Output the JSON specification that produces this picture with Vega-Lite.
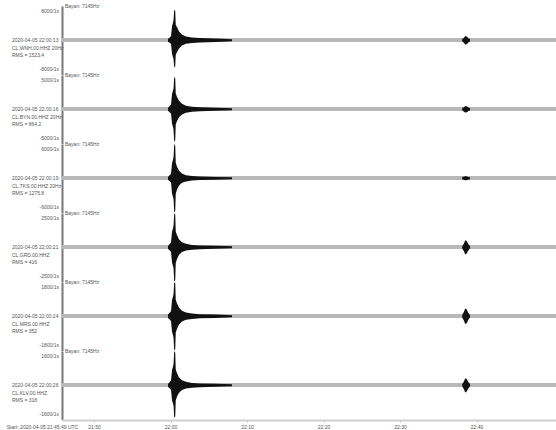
{
  "$schema": "https://vega.github.io/schema/vega-lite/v6.json",
  "padding": {"left": 6, "top": 4, "right": 0, "bottom": 0},
  "background": "white",
  "bounds": "flush",
  "data": {"values": [
    {"sta": "A", "ev": 1, "t": "2020-04-05T21:59:40", "hi": 0.04, "lo": -0.04},
    {"sta": "A", "ev": 1, "t": "2020-04-05T22:00:04", "hi": 0.12, "lo": -0.1},
    {"sta": "A", "ev": 1, "t": "2020-04-05T22:00:12", "hi": 0.42, "lo": -0.4},
    {"sta": "A", "ev": 1, "t": "2020-04-05T22:00:20", "hi": 0.52, "lo": -0.5},
    {"sta": "A", "ev": 1, "t": "2020-04-05T22:00:24", "hi": 0.6, "lo": -0.55},
    {"sta": "A", "ev": 1, "t": "2020-04-05T22:00:29", "hi": 0.9, "lo": -0.8},
    {"sta": "A", "ev": 1, "t": "2020-04-05T22:00:37", "hi": 0.85, "lo": -0.75},
    {"sta": "A", "ev": 1, "t": "2020-04-05T22:00:41", "hi": 0.45, "lo": -0.42},
    {"sta": "A", "ev": 1, "t": "2020-04-05T22:00:51", "hi": 0.38, "lo": -0.34},
    {"sta": "A", "ev": 1, "t": "2020-04-05T22:01:07", "hi": 0.26, "lo": -0.24},
    {"sta": "A", "ev": 1, "t": "2020-04-05T22:01:30", "hi": 0.17, "lo": -0.15},
    {"sta": "A", "ev": 1, "t": "2020-04-05T22:02:01", "hi": 0.11, "lo": -0.1},
    {"sta": "A", "ev": 1, "t": "2020-04-05T22:02:48", "hi": 0.08, "lo": -0.08},
    {"sta": "A", "ev": 1, "t": "2020-04-05T22:03:51", "hi": 0.065, "lo": -0.065},
    {"sta": "A", "ev": 1, "t": "2020-04-05T22:05:49", "hi": 0.05, "lo": -0.05},
    {"sta": "A", "ev": 1, "t": "2020-04-05T22:08:02", "hi": 0.03, "lo": -0.03},
    {"sta": "A", "ev": 2, "t": "2020-04-05T22:38:07", "hi": 0.03, "lo": -0.03},
    {"sta": "A", "ev": 2, "t": "2020-04-05T22:38:22", "hi": 0.08, "lo": -0.08},
    {"sta": "A", "ev": 2, "t": "2020-04-05T22:38:30", "hi": 0.12, "lo": -0.12},
    {"sta": "A", "ev": 2, "t": "2020-04-05T22:38:38", "hi": 0.12, "lo": -0.12},
    {"sta": "A", "ev": 2, "t": "2020-04-05T22:38:46", "hi": 0.1, "lo": -0.1},
    {"sta": "A", "ev": 2, "t": "2020-04-05T22:38:54", "hi": 0.07, "lo": -0.07},
    {"sta": "A", "ev": 2, "t": "2020-04-05T22:39:09", "hi": 0.03, "lo": -0.03},

    {"sta": "B", "ev": 1, "t": "2020-04-05T21:59:40", "hi": 0.04, "lo": -0.04},
    {"sta": "B", "ev": 1, "t": "2020-04-05T22:00:04", "hi": 0.14, "lo": -0.12},
    {"sta": "B", "ev": 1, "t": "2020-04-05T22:00:12", "hi": 0.45, "lo": -0.42},
    {"sta": "B", "ev": 1, "t": "2020-04-05T22:00:20", "hi": 0.55, "lo": -0.52},
    {"sta": "B", "ev": 1, "t": "2020-04-05T22:00:24", "hi": 0.62, "lo": -0.6},
    {"sta": "B", "ev": 1, "t": "2020-04-05T22:00:29", "hi": 0.95, "lo": -0.95},
    {"sta": "B", "ev": 1, "t": "2020-04-05T22:00:37", "hi": 0.9, "lo": -0.9},
    {"sta": "B", "ev": 1, "t": "2020-04-05T22:00:41", "hi": 0.46, "lo": -0.44},
    {"sta": "B", "ev": 1, "t": "2020-04-05T22:00:51", "hi": 0.36, "lo": -0.34},
    {"sta": "B", "ev": 1, "t": "2020-04-05T22:01:07", "hi": 0.25, "lo": -0.23},
    {"sta": "B", "ev": 1, "t": "2020-04-05T22:01:30", "hi": 0.16, "lo": -0.15},
    {"sta": "B", "ev": 1, "t": "2020-04-05T22:02:01", "hi": 0.1, "lo": -0.1},
    {"sta": "B", "ev": 1, "t": "2020-04-05T22:02:48", "hi": 0.075, "lo": -0.075},
    {"sta": "B", "ev": 1, "t": "2020-04-05T22:03:51", "hi": 0.06, "lo": -0.06},
    {"sta": "B", "ev": 1, "t": "2020-04-05T22:05:49", "hi": 0.045, "lo": -0.045},
    {"sta": "B", "ev": 1, "t": "2020-04-05T22:08:02", "hi": 0.03, "lo": -0.03},
    {"sta": "B", "ev": 2, "t": "2020-04-05T22:38:07", "hi": 0.03, "lo": -0.03},
    {"sta": "B", "ev": 2, "t": "2020-04-05T22:38:22", "hi": 0.07, "lo": -0.07},
    {"sta": "B", "ev": 2, "t": "2020-04-05T22:38:30", "hi": 0.09, "lo": -0.09},
    {"sta": "B", "ev": 2, "t": "2020-04-05T22:38:38", "hi": 0.09, "lo": -0.09},
    {"sta": "B", "ev": 2, "t": "2020-04-05T22:38:46", "hi": 0.08, "lo": -0.08},
    {"sta": "B", "ev": 2, "t": "2020-04-05T22:38:54", "hi": 0.06, "lo": -0.06},
    {"sta": "B", "ev": 2, "t": "2020-04-05T22:39:09", "hi": 0.03, "lo": -0.03},

    {"sta": "C", "ev": 1, "t": "2020-04-05T21:59:40", "hi": 0.04, "lo": -0.04},
    {"sta": "C", "ev": 1, "t": "2020-04-05T22:00:04", "hi": 0.13, "lo": -0.12},
    {"sta": "C", "ev": 1, "t": "2020-04-05T22:00:12", "hi": 0.44, "lo": -0.44},
    {"sta": "C", "ev": 1, "t": "2020-04-05T22:00:20", "hi": 0.55, "lo": -0.55},
    {"sta": "C", "ev": 1, "t": "2020-04-05T22:00:24", "hi": 0.62, "lo": -0.62},
    {"sta": "C", "ev": 1, "t": "2020-04-05T22:00:29", "hi": 1.0, "lo": -1.0},
    {"sta": "C", "ev": 1, "t": "2020-04-05T22:00:37", "hi": 0.95, "lo": -0.95},
    {"sta": "C", "ev": 1, "t": "2020-04-05T22:00:41", "hi": 0.45, "lo": -0.45},
    {"sta": "C", "ev": 1, "t": "2020-04-05T22:00:51", "hi": 0.34, "lo": -0.33},
    {"sta": "C", "ev": 1, "t": "2020-04-05T22:01:07", "hi": 0.22, "lo": -0.21},
    {"sta": "C", "ev": 1, "t": "2020-04-05T22:01:30", "hi": 0.14, "lo": -0.13},
    {"sta": "C", "ev": 1, "t": "2020-04-05T22:02:01", "hi": 0.09, "lo": -0.09},
    {"sta": "C", "ev": 1, "t": "2020-04-05T22:02:48", "hi": 0.065, "lo": -0.065},
    {"sta": "C", "ev": 1, "t": "2020-04-05T22:03:51", "hi": 0.05, "lo": -0.05},
    {"sta": "C", "ev": 1, "t": "2020-04-05T22:05:49", "hi": 0.04, "lo": -0.04},
    {"sta": "C", "ev": 1, "t": "2020-04-05T22:08:02", "hi": 0.03, "lo": -0.03},
    {"sta": "C", "ev": 2, "t": "2020-04-05T22:38:07", "hi": 0.03, "lo": -0.03},
    {"sta": "C", "ev": 2, "t": "2020-04-05T22:38:22", "hi": 0.05, "lo": -0.05},
    {"sta": "C", "ev": 2, "t": "2020-04-05T22:38:30", "hi": 0.06, "lo": -0.06},
    {"sta": "C", "ev": 2, "t": "2020-04-05T22:38:38", "hi": 0.06, "lo": -0.06},
    {"sta": "C", "ev": 2, "t": "2020-04-05T22:38:46", "hi": 0.05, "lo": -0.05},
    {"sta": "C", "ev": 2, "t": "2020-04-05T22:38:54", "hi": 0.04, "lo": -0.04},
    {"sta": "C", "ev": 2, "t": "2020-04-05T22:39:09", "hi": 0.03, "lo": -0.03},

    {"sta": "D", "ev": 1, "t": "2020-04-05T21:59:40", "hi": 0.04, "lo": -0.04},
    {"sta": "D", "ev": 1, "t": "2020-04-05T22:00:04", "hi": 0.14, "lo": -0.13},
    {"sta": "D", "ev": 1, "t": "2020-04-05T22:00:12", "hi": 0.46, "lo": -0.45},
    {"sta": "D", "ev": 1, "t": "2020-04-05T22:00:20", "hi": 0.56, "lo": -0.55},
    {"sta": "D", "ev": 1, "t": "2020-04-05T22:00:24", "hi": 0.64, "lo": -0.62},
    {"sta": "D", "ev": 1, "t": "2020-04-05T22:00:29", "hi": 1.0, "lo": -1.0},
    {"sta": "D", "ev": 1, "t": "2020-04-05T22:00:37", "hi": 0.95, "lo": -0.95},
    {"sta": "D", "ev": 1, "t": "2020-04-05T22:00:41", "hi": 0.46, "lo": -0.46},
    {"sta": "D", "ev": 1, "t": "2020-04-05T22:00:51", "hi": 0.35, "lo": -0.34},
    {"sta": "D", "ev": 1, "t": "2020-04-05T22:01:07", "hi": 0.23, "lo": -0.22},
    {"sta": "D", "ev": 1, "t": "2020-04-05T22:01:30", "hi": 0.15, "lo": -0.14},
    {"sta": "D", "ev": 1, "t": "2020-04-05T22:02:01", "hi": 0.1, "lo": -0.09},
    {"sta": "D", "ev": 1, "t": "2020-04-05T22:02:48", "hi": 0.07, "lo": -0.07},
    {"sta": "D", "ev": 1, "t": "2020-04-05T22:03:51", "hi": 0.055, "lo": -0.055},
    {"sta": "D", "ev": 1, "t": "2020-04-05T22:05:49", "hi": 0.045, "lo": -0.045},
    {"sta": "D", "ev": 1, "t": "2020-04-05T22:08:02", "hi": 0.03, "lo": -0.03},
    {"sta": "D", "ev": 2, "t": "2020-04-05T22:38:07", "hi": 0.03, "lo": -0.03},
    {"sta": "D", "ev": 2, "t": "2020-04-05T22:38:22", "hi": 0.12, "lo": -0.12},
    {"sta": "D", "ev": 2, "t": "2020-04-05T22:38:30", "hi": 0.2, "lo": -0.2},
    {"sta": "D", "ev": 2, "t": "2020-04-05T22:38:38", "hi": 0.2, "lo": -0.2},
    {"sta": "D", "ev": 2, "t": "2020-04-05T22:38:46", "hi": 0.16, "lo": -0.16},
    {"sta": "D", "ev": 2, "t": "2020-04-05T22:38:54", "hi": 0.1, "lo": -0.1},
    {"sta": "D", "ev": 2, "t": "2020-04-05T22:39:09", "hi": 0.03, "lo": -0.03},

    {"sta": "E", "ev": 1, "t": "2020-04-05T21:59:40", "hi": 0.05, "lo": -0.05},
    {"sta": "E", "ev": 1, "t": "2020-04-05T22:00:04", "hi": 0.15, "lo": -0.14},
    {"sta": "E", "ev": 1, "t": "2020-04-05T22:00:12", "hi": 0.48, "lo": -0.46},
    {"sta": "E", "ev": 1, "t": "2020-04-05T22:00:20", "hi": 0.58, "lo": -0.56},
    {"sta": "E", "ev": 1, "t": "2020-04-05T22:00:24", "hi": 0.66, "lo": -0.64},
    {"sta": "E", "ev": 1, "t": "2020-04-05T22:00:29", "hi": 1.0, "lo": -1.0},
    {"sta": "E", "ev": 1, "t": "2020-04-05T22:00:37", "hi": 0.96, "lo": -0.96},
    {"sta": "E", "ev": 1, "t": "2020-04-05T22:00:41", "hi": 0.48, "lo": -0.47},
    {"sta": "E", "ev": 1, "t": "2020-04-05T22:00:51", "hi": 0.37, "lo": -0.36},
    {"sta": "E", "ev": 1, "t": "2020-04-05T22:01:07", "hi": 0.25, "lo": -0.24},
    {"sta": "E", "ev": 1, "t": "2020-04-05T22:01:30", "hi": 0.16, "lo": -0.15},
    {"sta": "E", "ev": 1, "t": "2020-04-05T22:02:01", "hi": 0.11, "lo": -0.1},
    {"sta": "E", "ev": 1, "t": "2020-04-05T22:02:48", "hi": 0.08, "lo": -0.08},
    {"sta": "E", "ev": 1, "t": "2020-04-05T22:03:51", "hi": 0.06, "lo": -0.06},
    {"sta": "E", "ev": 1, "t": "2020-04-05T22:05:49", "hi": 0.05, "lo": -0.05},
    {"sta": "E", "ev": 1, "t": "2020-04-05T22:08:02", "hi": 0.03, "lo": -0.03},
    {"sta": "E", "ev": 2, "t": "2020-04-05T22:38:07", "hi": 0.03, "lo": -0.03},
    {"sta": "E", "ev": 2, "t": "2020-04-05T22:38:22", "hi": 0.14, "lo": -0.14},
    {"sta": "E", "ev": 2, "t": "2020-04-05T22:38:30", "hi": 0.22, "lo": -0.22},
    {"sta": "E", "ev": 2, "t": "2020-04-05T22:38:38", "hi": 0.22, "lo": -0.22},
    {"sta": "E", "ev": 2, "t": "2020-04-05T22:38:46", "hi": 0.18, "lo": -0.18},
    {"sta": "E", "ev": 2, "t": "2020-04-05T22:38:54", "hi": 0.11, "lo": -0.11},
    {"sta": "E", "ev": 2, "t": "2020-04-05T22:39:09", "hi": 0.03, "lo": -0.03},

    {"sta": "F", "ev": 1, "t": "2020-04-05T21:59:40", "hi": 0.04, "lo": -0.04},
    {"sta": "F", "ev": 1, "t": "2020-04-05T22:00:04", "hi": 0.14, "lo": -0.13},
    {"sta": "F", "ev": 1, "t": "2020-04-05T22:00:12", "hi": 0.45, "lo": -0.44},
    {"sta": "F", "ev": 1, "t": "2020-04-05T22:00:20", "hi": 0.55, "lo": -0.54},
    {"sta": "F", "ev": 1, "t": "2020-04-05T22:00:24", "hi": 0.63, "lo": -0.6},
    {"sta": "F", "ev": 1, "t": "2020-04-05T22:00:29", "hi": 1.0, "lo": -0.95},
    {"sta": "F", "ev": 1, "t": "2020-04-05T22:00:37", "hi": 0.95, "lo": -0.9},
    {"sta": "F", "ev": 1, "t": "2020-04-05T22:00:41", "hi": 0.46, "lo": -0.44},
    {"sta": "F", "ev": 1, "t": "2020-04-05T22:00:51", "hi": 0.35, "lo": -0.33},
    {"sta": "F", "ev": 1, "t": "2020-04-05T22:01:07", "hi": 0.23, "lo": -0.22},
    {"sta": "F", "ev": 1, "t": "2020-04-05T22:01:30", "hi": 0.15, "lo": -0.14},
    {"sta": "F", "ev": 1, "t": "2020-04-05T22:02:01", "hi": 0.1, "lo": -0.09},
    {"sta": "F", "ev": 1, "t": "2020-04-05T22:02:48", "hi": 0.07, "lo": -0.07},
    {"sta": "F", "ev": 1, "t": "2020-04-05T22:03:51", "hi": 0.055, "lo": -0.055},
    {"sta": "F", "ev": 1, "t": "2020-04-05T22:05:49", "hi": 0.045, "lo": -0.045},
    {"sta": "F", "ev": 1, "t": "2020-04-05T22:08:02", "hi": 0.03, "lo": -0.03},
    {"sta": "F", "ev": 2, "t": "2020-04-05T22:38:07", "hi": 0.03, "lo": -0.03},
    {"sta": "F", "ev": 2, "t": "2020-04-05T22:38:22", "hi": 0.12, "lo": -0.12},
    {"sta": "F", "ev": 2, "t": "2020-04-05T22:38:30", "hi": 0.2, "lo": -0.2},
    {"sta": "F", "ev": 2, "t": "2020-04-05T22:38:38", "hi": 0.2, "lo": -0.2},
    {"sta": "F", "ev": 2, "t": "2020-04-05T22:38:46", "hi": 0.16, "lo": -0.16},
    {"sta": "F", "ev": 2, "t": "2020-04-05T22:38:54", "hi": 0.1, "lo": -0.1},
    {"sta": "F", "ev": 2, "t": "2020-04-05T22:39:09", "hi": 0.03, "lo": -0.03},

    {"sta": "A", "kind": "name", "txt": "Bayan: 7145Hz"},
    {"sta": "B", "kind": "name", "txt": "Bayan: 7145Hz"},
    {"sta": "C", "kind": "name", "txt": "Bayan: 7145Hz"},
    {"sta": "D", "kind": "name", "txt": "Bayan: 7145Hz"},
    {"sta": "E", "kind": "name", "txt": "Bayan: 7145Hz"},
    {"sta": "F", "kind": "name", "txt": "Bayan: 7145Hz"},
    {"sta": "A", "kind": "info", "txt": "2020-04-05 22:00:13\nCL.WNH.00.HHZ 20Hz\nRMS = 1523.4"},
    {"sta": "B", "kind": "info", "txt": "2020-04-05 22:00:16\nCL.BYN.00.HHZ 20Hz\nRMS = 864.2"},
    {"sta": "C", "kind": "info", "txt": "2020-04-05 22:00:19\nCL.TKS.00.HHZ 20Hz\nRMS = 1275.8"},
    {"sta": "D", "kind": "info", "txt": "2020-04-05 22:00:21\nCL.GRD.00.HHZ\nRMS = 416"},
    {"sta": "E", "kind": "info", "txt": "2020-04-05 22:00:24\nCL.MRS.00.HHZ\nRMS = 352"},
    {"sta": "F", "kind": "info", "txt": "2020-04-05 22:00:26\nCL.KLV.00.HHZ\nRMS = 318"},
    {"sta": "A", "kind": "top", "txt": "8000/1s"},
    {"sta": "A", "kind": "bot", "txt": "-8000/1s"},
    {"sta": "B", "kind": "top", "txt": "5000/1s"},
    {"sta": "B", "kind": "bot", "txt": "-5000/1s"},
    {"sta": "C", "kind": "top", "txt": "6000/1s"},
    {"sta": "C", "kind": "bot", "txt": "-6000/1s"},
    {"sta": "D", "kind": "top", "txt": "2500/1s"},
    {"sta": "D", "kind": "bot", "txt": "-2500/1s"},
    {"sta": "E", "kind": "top", "txt": "1800/1s"},
    {"sta": "E", "kind": "bot", "txt": "-1800/1s"},
    {"sta": "F", "kind": "top", "txt": "1600/1s"},
    {"sta": "F", "kind": "bot", "txt": "-1600/1s"}
  ]},
  "facet": {"row": {"field": "sta", "type": "nominal", "header": {"labels": false, "title": null}}},
  "spacing": 0,
  "spec": {
    "width": 494,
    "height": 68.6,
    "layer": [
      {
        "mark": {"type": "rule", "color": "#b8b8b8", "strokeWidth": 3},
        "encoding": {"y": {"datum": 0, "type": "quantitative"}}
      },
      {
        "transform": [{"filter": "isValid(datum.hi)"}],
        "mark": {"type": "area", "color": "#111111", "clip": true},
        "encoding": {
          "x": {"field": "t", "type": "temporal"},
          "y": {"field": "hi", "type": "quantitative"},
          "y2": {"field": "lo"},
          "detail": {"field": "ev", "type": "nominal"}
        }
      },
      {
        "transform": [{"filter": "datum.kind === 'name'"}],
        "mark": {"type": "text", "align": "left", "baseline": "middle", "dx": 3, "fontSize": 5, "color": "#555"},
        "encoding": {
          "x": {"datum": {"year": 2020, "month": 4, "date": 5, "hours": 21, "minutes": 45, "seconds": 49}, "type": "temporal"},
          "y": {"datum": 1, "type": "quantitative"},
          "text": {"field": "txt"}
        }
      },
      {
        "transform": [{"filter": "datum.kind === 'info'"}],
        "mark": {"type": "text", "align": "left", "baseline": "middle", "dx": -50, "fontSize": 5, "lineHeight": 7.5, "lineBreak": "\n", "color": "#555"},
        "encoding": {
          "x": {"datum": {"year": 2020, "month": 4, "date": 5, "hours": 21, "minutes": 45, "seconds": 49}, "type": "temporal"},
          "y": {"datum": 0, "type": "quantitative"},
          "text": {"field": "txt"}
        }
      },
      {
        "transform": [{"filter": "datum.kind === 'top'"}],
        "mark": {"type": "text", "align": "right", "baseline": "middle", "dx": -3, "fontSize": 5, "color": "#555"},
        "encoding": {
          "x": {"datum": {"year": 2020, "month": 4, "date": 5, "hours": 21, "minutes": 45, "seconds": 49}, "type": "temporal"},
          "y": {"datum": 0.85, "type": "quantitative"},
          "text": {"field": "txt"}
        }
      },
      {
        "transform": [{"filter": "datum.kind === 'bot'"}],
        "mark": {"type": "text", "align": "right", "baseline": "middle", "dx": -3, "fontSize": 5, "color": "#555"},
        "encoding": {
          "x": {"datum": {"year": 2020, "month": 4, "date": 5, "hours": 21, "minutes": 45, "seconds": 49}, "type": "temporal"},
          "y": {"datum": -0.85, "type": "quantitative"},
          "text": {"field": "txt"}
        }
      }
    ],
    "encoding": {
      "x": {
        "type": "temporal",
        "scale": {"domain": [
          {"year": 2020, "month": 4, "date": 5, "hours": 21, "minutes": 45, "seconds": 49},
          {"year": 2020, "month": 4, "date": 5, "hours": 22, "minutes": 50, "seconds": 23}
        ]},
        "axis": {
          "title": "Start: 2020-04-05 21:45:49 UTC",
          "titleX": -20, "titleY": 4, "titleBaseline": "top", "titleFontSize": 5, "titleFontWeight": "normal", "titleColor": "#555",
          "format": "%H:%M",
          "values": [
            {"year": 2020, "month": 4, "date": 5, "hours": 21, "minutes": 50},
            {"year": 2020, "month": 4, "date": 5, "hours": 22, "minutes": 0},
            {"year": 2020, "month": 4, "date": 5, "hours": 22, "minutes": 10},
            {"year": 2020, "month": 4, "date": 5, "hours": 22, "minutes": 20},
            {"year": 2020, "month": 4, "date": 5, "hours": 22, "minutes": 30},
            {"year": 2020, "month": 4, "date": 5, "hours": 22, "minutes": 40}
          ],
          "labelFontSize": 5, "labelColor": "#555", "labelPadding": 2,
          "domainColor": "#d0d0d0", "domainWidth": 2, "tickColor": "#bbb", "tickSize": 2, "grid": false
        }
      },
      "y": {
        "type": "quantitative",
        "scale": {"domain": [-1, 1], "nice": false, "zero": false},
        "axis": {"title": null, "labels": false, "ticks": false, "grid": false, "domainColor": "#777", "domainWidth": 2}
      }
    }
  },
  "config": {
    "view": {"stroke": null},
    "font": "Liberation Sans",
    "text": {"font": "Liberation Sans"}
  }
}
